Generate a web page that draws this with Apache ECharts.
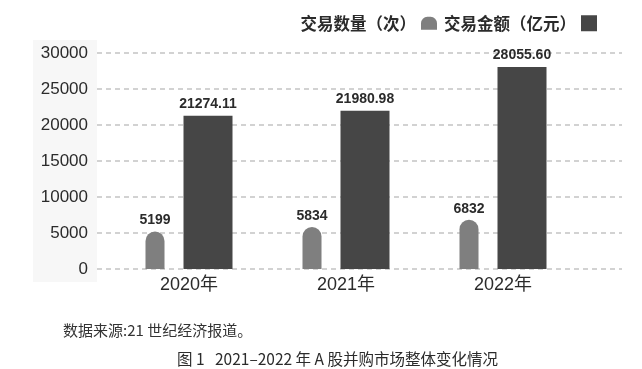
<!DOCTYPE html>
<html>
<head>
<meta charset="utf-8">
<script src="https://cdn.jsdelivr.net/npm/echarts@6/dist/echarts.min.js"></script>
<style>html,body{margin:0;padding:0;background:#fff;}#c{width:642px;height:369px;}</style>
</head>
<body>
<div id="c"></div>
<script>
const categories = ['2020年', '2021年', '2022年'];
const countValues = [5199, 5834, 6832];
const amountValues = [21274.11, 21980.98, 28055.60];
const amountLabels = ['21274.11', '21980.98', '28055.60'];
const seriesNames = ['交易数量（次）', '交易金额（亿元）'];
const yTicks = [0, 5000, 10000, 15000, 20000, 25000, 30000];

const FONT = '"Liberation Sans", Arial, "Noto Sans CJK SC", sans-serif';
const chart = echarts.init(document.getElementById('c'));
chart.setOption({
  animation: false,
  backgroundColor: '#ffffff',
  graphic: [{
    type: 'rect', z: -10, silent: true,
    shape: { x: 33, y: 40, width: 64, height: 242 },
    style: { fill: '#f7f7f7' }
  }],
  title: [{
    text: '数据来源:21 世纪经济报道。',
    left: 58, top: 318,
    textStyle: { fontFamily: '"Noto Sans CJK SC", sans-serif', fontSize: 15, fontWeight: 'normal', color: '#333' }
  }, {
    text: '图 1   2021–2022 年 A 股并购市场整体变化情况',
    left: 172, top: 346,
    textStyle: { fontFamily: '"Noto Sans CJK SC", sans-serif', fontSize: 15.5, fontWeight: 'normal', color: '#2b2b2b' }
  }],
  legend: {
    right: 40, top: 10,
    align: 'right',
    itemWidth: 16, itemHeight: 16, itemGap: 7,
    textStyle: { fontFamily: '"Noto Sans CJK SC", sans-serif', fontSize: 16.5, fontWeight: 'bold', color: '#2b2b2b' },
    data: [
      { name: seriesNames[0], icon: 'path://M0,12 L0,6 A6,6 0 0 1 6,0 L9,0 A6,6 0 0 1 15,6 L15,12 Z' },
      { name: seriesNames[1], icon: 'rect' }
    ]
  },
  grid: [
    { left: 97, right: 20, top: 53, bottom: 100 },
    { left: 110.5, right: 60.5, top: 53, bottom: 100 }
  ],
  xAxis: [
    { gridIndex: 0, type: 'category', data: categories, show: false },
    {
      gridIndex: 1, type: 'category', data: categories,
      axisLine: { show: false }, axisTick: { show: false },
      axisLabel: { fontFamily: FONT, fontSize: 18, color: '#2b2b2b', margin: 7 }
    }
  ],
  yAxis: [
    {
      gridIndex: 0, type: 'value', min: yTicks[0], max: yTicks[yTicks.length - 1], interval: 5000,
      axisLine: { show: false }, axisTick: { show: false },
      axisLabel: { fontFamily: FONT, fontSize: 17, color: '#2b2b2b', margin: 9, formatter: v => String(v) },
      splitLine: { show: true, lineStyle: { color: '#c4c4c4', type: [5, 4], width: 1.5 } }
    },
    {
      gridIndex: 1, type: 'value', min: yTicks[0], max: yTicks[yTicks.length - 1], interval: 5000,
      show: false, splitLine: { show: false }
    }
  ],
  series: [
    {
      name: seriesNames[0], type: 'bar', xAxisIndex: 1, yAxisIndex: 1,
      data: countValues, barWidth: 19, barGap: '100%',
      itemStyle: { color: '#7f7f7f', borderRadius: [10, 10, 0, 0] },
      label: { show: true, position: 'top', distance: 4, fontFamily: FONT, fontSize: 14, fontWeight: 'bold', color: '#2b2b2b' }
    },
    {
      name: seriesNames[1], type: 'bar', xAxisIndex: 1, yAxisIndex: 1,
      data: amountValues, barWidth: 49,
      itemStyle: { color: '#464646' },
      label: {
        show: true, position: 'top', distance: 5, fontFamily: FONT, fontSize: 14, fontWeight: 'bold', color: '#2b2b2b',
        formatter: p => amountLabels[p.dataIndex]
      }
    }
  ]
});
</script>
</body>
</html>
